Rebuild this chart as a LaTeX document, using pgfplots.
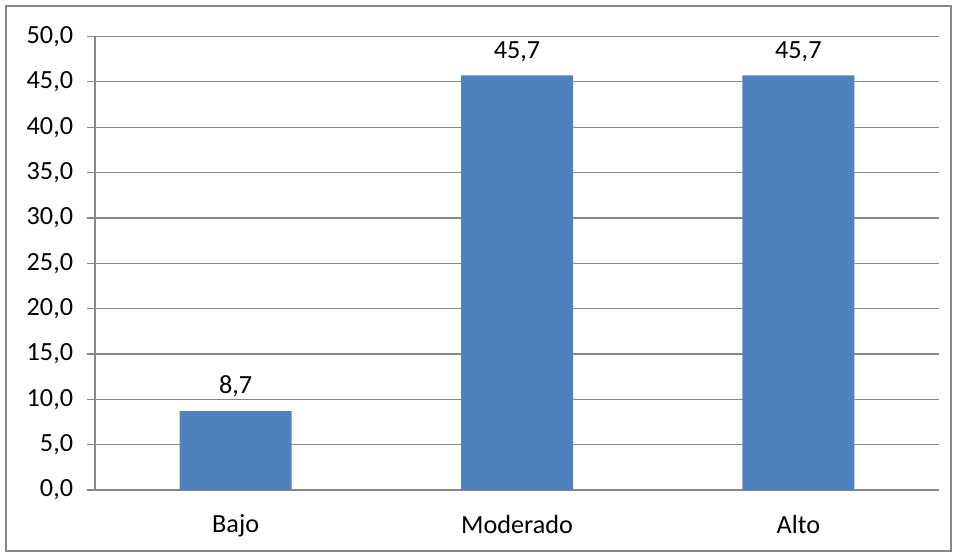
\documentclass[border=0pt]{standalone}
\usepackage{pgfplots}
\pgfplotsset{compat=1.18}
\usepackage{fontspec}
\setmainfont{Carlito}
\definecolor{barblue}{HTML}{4F81BD}
\definecolor{gridgray}{HTML}{878787}
\pgfkeys{/pgf/number format/.cd, fixed, fixed zerofill, precision=1, use comma, assume math mode=true}
\begin{document}
\fontsize{26.2}{31}\selectfont
\begin{tikzpicture}
\path[use as bounding box] (0pt,0pt) rectangle (955pt,555pt);
\draw[gridgray, line width=2pt] (6pt,4pt) rectangle (951pt,549pt);
\begin{axis}[
  at={(95pt,65pt)}, anchor=south west,
  scale only axis, width=844pt, height=453.5pt,
  xmin=-0.5, xmax=2.5, ymin=0, ymax=50,
  ytick distance=5,
  axis x line*=bottom, axis y line*=left,
  axis line style={gridgray, line width=1.3pt},
  ymajorgrids, grid style={gridgray, line width=1.3pt},
  tick style={gridgray, line width=1.3pt},
  tick align=outside, major tick length=8pt,
  xtick={0,1,2}, xticklabels={Bajo,Moderado,Alto},
  major x tick style={draw=none},
  extra x ticks={-0.5,0.5,1.5,2.5}, extra x tick labels={},
  extra x tick style={grid=none, tick style={gridgray, line width=1.3pt}, major tick length=8pt},
  yticklabel style={xshift=-5pt},
  xticklabel style={yshift=-8pt},
  ybar, bar width=112pt,
  nodes near coords,
  every node near coord/.append style={yshift=5pt, black},
  clip=false,
]
\addplot[fill=barblue, draw=none] coordinates {(0,8.7) (1,45.7) (2,45.7)};
\end{axis}
\end{tikzpicture}
\end{document}
